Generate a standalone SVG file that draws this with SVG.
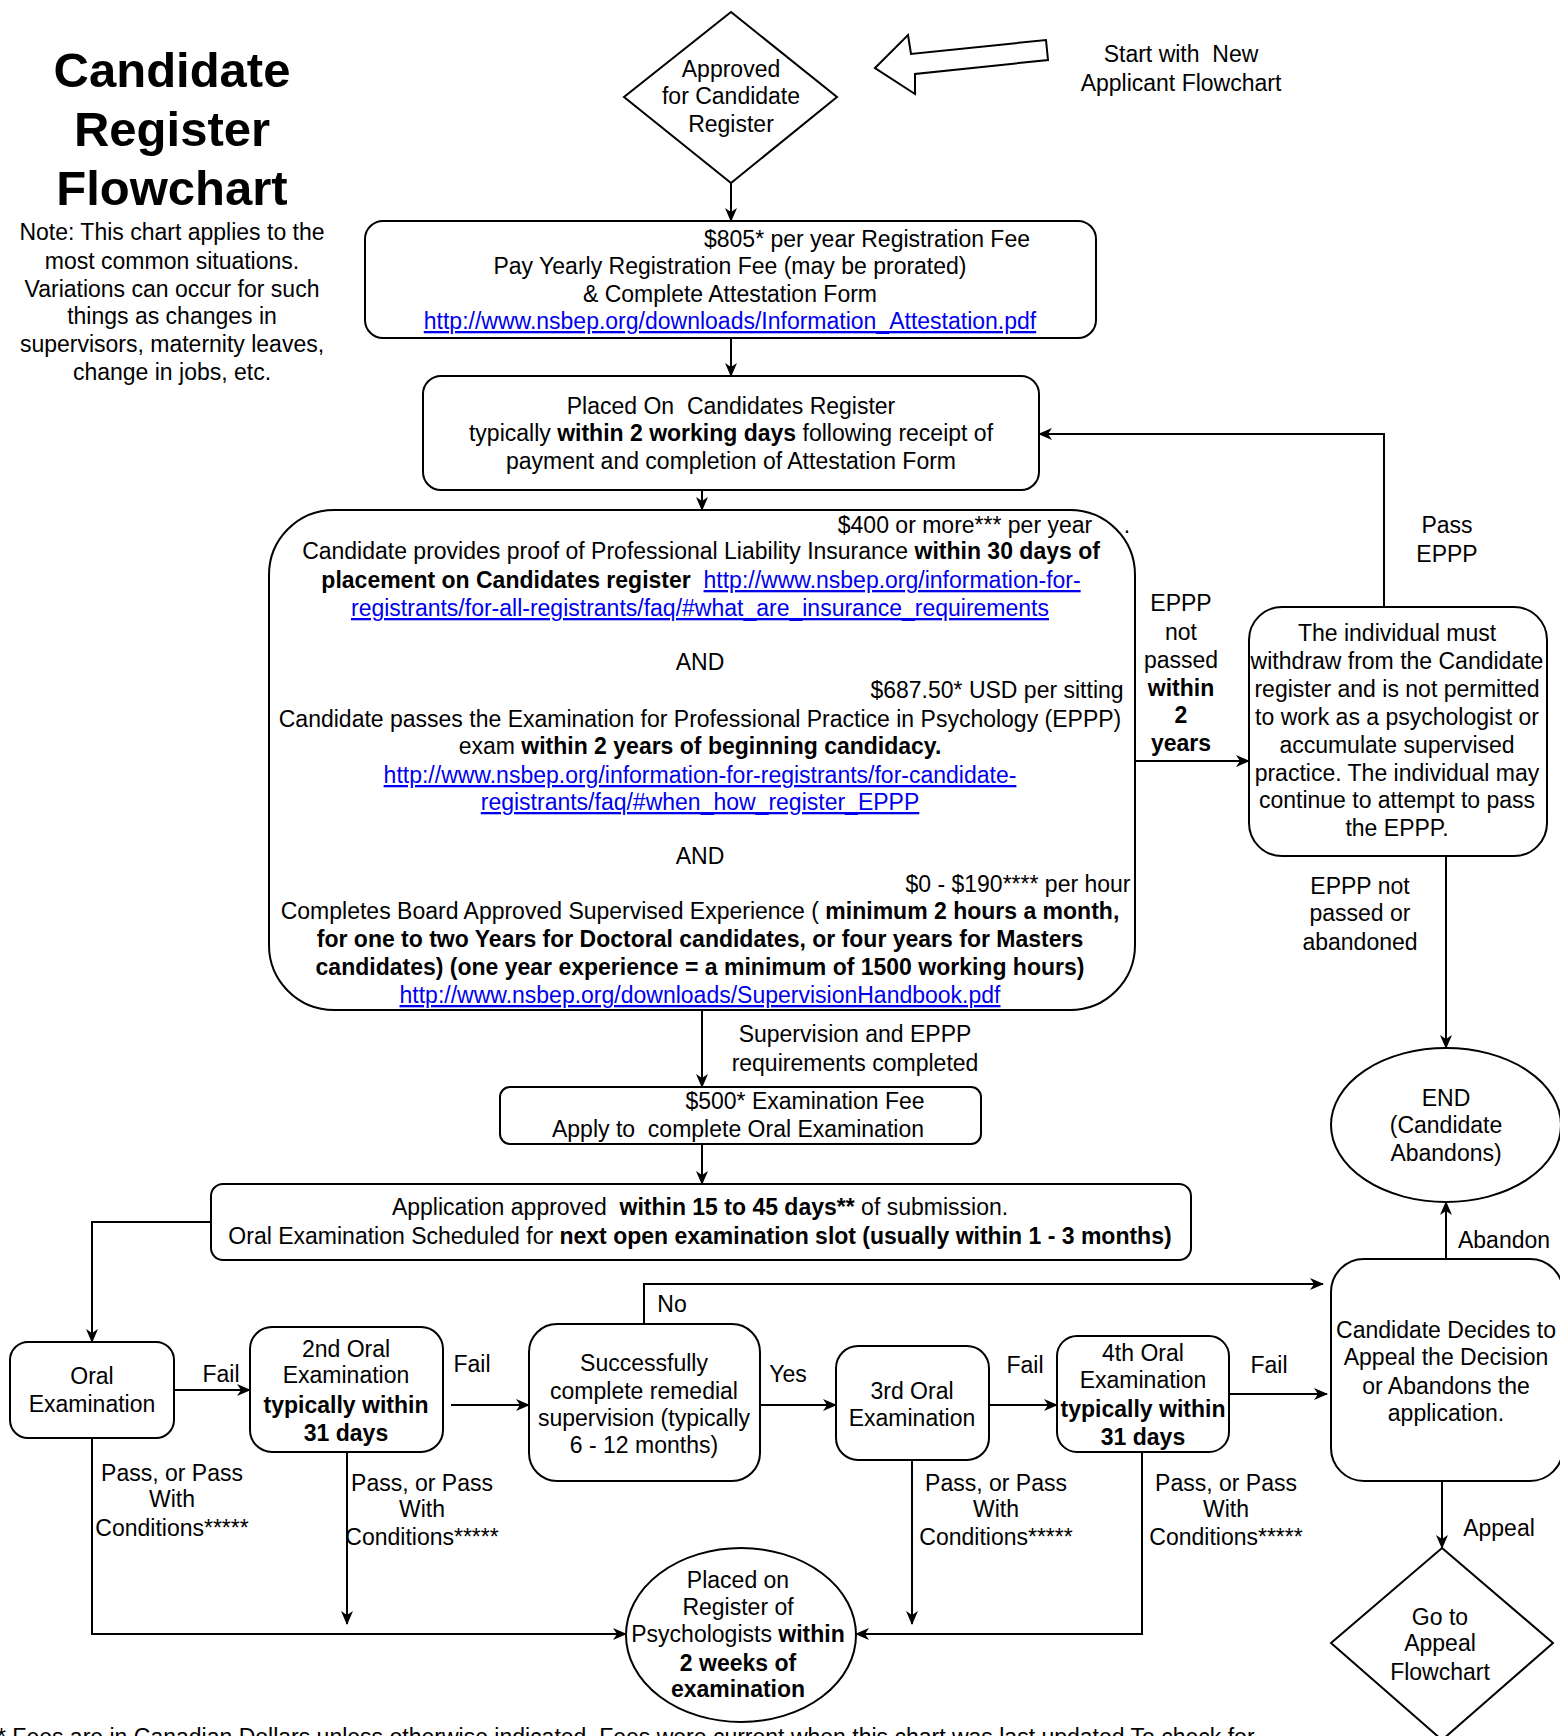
<svg xmlns="http://www.w3.org/2000/svg" width="1560" height="1736" viewBox="0 0 1560 1736">
<style>
text{font-family:"Liberation Sans",Arial,Helvetica,sans-serif;font-size:23px;fill:#000;text-anchor:middle;white-space:pre}
.title{font-size:49px;font-weight:bold}
.b{font-weight:bold}
.a{fill:#0000EE;text-decoration:underline}
.node{fill:#fff;stroke:#000;stroke-width:2}
.edge{fill:none;stroke:#000;stroke-width:2}
</style>
<defs>
<marker id="arr" viewBox="0 0 14 12" refX="13" refY="6" markerWidth="14" markerHeight="12" markerUnits="userSpaceOnUse" orient="auto">
<path d="M0,0 L14,6 L0,12 L4,6 Z" fill="#000"/>
</marker>
</defs>
<rect width="1560" height="1736" fill="#fff"/>

<g id="title">
<text class="title" x="172" y="87">Candidate</text>
<text class="title" x="172" y="146">Register</text>
<text class="title" x="172" y="205">Flowchart</text>
</g>
<g id="note">
<text x="172" y="240">Note: This chart applies to the</text>
<text x="172" y="269">most common situations.</text>
<text x="172" y="297">Variations can occur for such</text>
<text x="172" y="324">things as changes in</text>
<text x="172" y="352">supervisors, maternity leaves,</text>
<text x="172" y="380">change in jobs, etc.</text>
</g>

<g id="start-arrow">
<polygon class="node" points="875,68 908,35 911,54 1046,40 1048,60 915,74 915,94"/>
<text x="1181" y="62">Start with  New</text>
<text x="1181" y="91">Applicant Flowchart</text>
</g>

<g id="approved">
<polygon class="node" points="731,12 837,97 731,183 624,97"/>
<text x="731" y="77">Approved</text>
<text x="731" y="104">for Candidate</text>
<text x="731" y="132">Register</text>
</g>

<g id="pay-fee">
<rect class="node" x="365" y="221" width="731" height="117" rx="18"/>
<text x="867" y="247">$805* per year Registration Fee</text>
<text x="730" y="274">Pay Yearly Registration Fee (may be prorated)</text>
<text x="730" y="302">&amp; Complete Attestation Form</text>
<text class="a" x="730" y="329">http://www.nsbep.org/downloads/Information_Attestation.pdf</text>
</g>

<g id="placed-candidates">
<rect class="node" x="423" y="376" width="616" height="114" rx="18"/>
<text x="731" y="414">Placed On  Candidates Register</text>
<text x="731" y="441">typically <tspan class="b">within 2 working days</tspan> following receipt of</text>
<text x="731" y="469">payment and completion of Attestation Form</text>
</g>

<g id="requirements">
<rect class="node" x="269" y="510" width="866" height="500" rx="65"/>
<text x="965" y="533">$400 or more*** per year</text>
<text x="1127" y="533">.</text>
<text x="701" y="559">Candidate provides proof of Professional Liability Insurance <tspan class="b">within 30 days of</tspan></text>
<text x="701" y="588"><tspan class="b">placement on Candidates register</tspan>  <tspan class="a">http://www.nsbep.org/information-for-</tspan></text>
<text class="a" x="700" y="616">registrants/for-all-registrants/faq/#what_are_insurance_requirements</text>
<text x="700" y="670">AND</text>
<text x="997" y="698">$687.50* USD per sitting</text>
<text x="700" y="727">Candidate passes the Examination for Professional Practice in Psychology (EPPP)</text>
<text x="700" y="754">exam <tspan class="b">within 2 years of beginning candidacy.</tspan></text>
<text class="a" x="700" y="783">http://www.nsbep.org/information-for-registrants/for-candidate-</text>
<text class="a" x="700" y="810">registrants/faq/#when_how_register_EPPP</text>
<text x="700" y="864">AND</text>
<text x="1018" y="892">$0 - $190**** per hour</text>
<text x="700" y="919">Completes Board Approved Supervised Experience ( <tspan class="b">minimum 2 hours a month,</tspan></text>
<text class="b" x="700" y="947">for one to two Years for Doctoral candidates, or four years for Masters</text>
<text class="b" x="700" y="975">candidates) (one year experience = a minimum of 1500 working hours)</text>
<text class="a" x="700" y="1003">http://www.nsbep.org/downloads/SupervisionHandbook.pdf</text>
</g>

<g id="withdraw">
<rect class="node" x="1249" y="607" width="298" height="249" rx="33"/>
<text x="1397" y="641">The individual must</text>
<text x="1397" y="669">withdraw from the Candidate</text>
<text x="1397" y="697">register and is not permitted</text>
<text x="1397" y="725">to work as a psychologist or</text>
<text x="1397" y="753">accumulate supervised</text>
<text x="1397" y="781">practice. The individual may</text>
<text x="1397" y="808">continue to attempt to pass</text>
<text x="1397" y="836">the EPPP.</text>
</g>

<g id="end">
<ellipse class="node" cx="1446" cy="1125" rx="115" ry="77"/>
<text x="1446" y="1106">END</text>
<text x="1446" y="1133">(Candidate</text>
<text x="1446" y="1161">Abandons)</text>
</g>

<g id="oral-fee">
<rect class="node" x="500" y="1087" width="481" height="57" rx="10"/>
<text x="805" y="1109">$500* Examination Fee</text>
<text x="738" y="1137">Apply to  complete Oral Examination</text>
</g>

<g id="approved-oral">
<rect class="node" x="211" y="1184" width="980" height="76" rx="12"/>
<text x="700" y="1215">Application approved  <tspan class="b">within 15 to 45 days**</tspan> of submission.</text>
<text x="700" y="1244">Oral Examination Scheduled for <tspan class="b">next open examination slot (usually within 1 - 3 months)</tspan></text>
</g>

<g id="oral1">
<rect class="node" x="10" y="1342" width="164" height="96" rx="18"/>
<text x="92" y="1384">Oral</text>
<text x="92" y="1412">Examination</text>
</g>

<g id="oral2">
<rect class="node" x="250" y="1327" width="193" height="125" rx="22"/>
<text x="346" y="1357">2nd Oral</text>
<text x="346" y="1383">Examination</text>
<text class="b" x="346" y="1413">typically within</text>
<text class="b" x="346" y="1441">31 days</text>
</g>

<g id="remedial">
<rect class="node" x="529" y="1324" width="231" height="157" rx="28"/>
<text x="644" y="1371">Successfully</text>
<text x="644" y="1399">complete remedial</text>
<text x="644" y="1426">supervision (typically</text>
<text x="644" y="1453">6 - 12 months)</text>
</g>

<g id="oral3">
<rect class="node" x="836" y="1346" width="153" height="114" rx="22"/>
<text x="912" y="1399">3rd Oral</text>
<text x="912" y="1426">Examination</text>
</g>

<g id="oral4">
<rect class="node" x="1057" y="1336" width="172" height="116" rx="20"/>
<text x="1143" y="1361">4th Oral</text>
<text x="1143" y="1388">Examination</text>
<text class="b" x="1143" y="1417">typically within</text>
<text class="b" x="1143" y="1445">31 days</text>
</g>

<g id="appeal-decision">
<rect class="node" x="1331" y="1259" width="232" height="222" rx="33"/>
<text x="1446" y="1338">Candidate Decides to</text>
<text x="1446" y="1365">Appeal the Decision</text>
<text x="1446" y="1394">or Abandons the</text>
<text x="1446" y="1421">application.</text>
</g>

<g id="appeal-flowchart">
<polygon class="node" points="1442,1548 1553,1643 1442,1740 1331,1643"/>
<text x="1440" y="1625">Go to</text>
<text x="1440" y="1651">Appeal</text>
<text x="1440" y="1680">Flowchart</text>
</g>

<g id="register-psych">
<ellipse class="node" cx="741" cy="1635" rx="115" ry="87"/>
<text x="738" y="1588">Placed on</text>
<text x="738" y="1615">Register of</text>
<text x="738" y="1642">Psychologists <tspan class="b">within</tspan></text>
<text class="b" x="738" y="1671">2 weeks of</text>
<text class="b" x="738" y="1697">examination</text>
</g>

<g id="connectors">
<path class="edge" marker-end="url(#arr)" d="M731,183 L731,221"/>
<path class="edge" marker-end="url(#arr)" d="M731,338 L731,376"/>
<path class="edge" marker-end="url(#arr)" d="M702,490 L702,510"/>
<path class="edge" marker-end="url(#arr)" d="M1135,761 L1249,761"/>
<path class="edge" marker-end="url(#arr)" d="M1384,607 L1384,434 L1039,434"/>
<path class="edge" marker-end="url(#arr)" d="M1446,856 L1446,1048"/>
<path class="edge" marker-end="url(#arr)" d="M702,1010 L702,1087"/>
<path class="edge" marker-end="url(#arr)" d="M702,1144 L702,1184"/>
<path class="edge" marker-end="url(#arr)" d="M211,1222 L92,1222 L92,1342"/>
<path class="edge" marker-end="url(#arr)" d="M174,1390 L250,1390"/>
<path class="edge" marker-end="url(#arr)" d="M451,1405 L529,1405"/>
<path class="edge" marker-end="url(#arr)" d="M644,1324 L644,1284 L1323,1284"/>
<path class="edge" marker-end="url(#arr)" d="M760,1405 L836,1405"/>
<path class="edge" marker-end="url(#arr)" d="M989,1405 L1057,1405"/>
<path class="edge" marker-end="url(#arr)" d="M1229,1394 L1327,1394"/>
<path class="edge" marker-end="url(#arr)" d="M1446,1259 L1446,1202"/>
<path class="edge" marker-end="url(#arr)" d="M1442,1481 L1442,1548"/>
<path class="edge" marker-end="url(#arr)" d="M92,1438 L92,1634 L626,1634"/>
<path class="edge" marker-end="url(#arr)" d="M347,1452 L347,1624"/>
<path class="edge" marker-end="url(#arr)" d="M912,1460 L912,1624"/>
<path class="edge" marker-end="url(#arr)" d="M1142,1452 L1142,1634 L856,1634"/>
</g>

<g id="edge-labels">
<text x="1181" y="611">EPPP</text>
<text x="1181" y="640">not</text>
<text x="1181" y="668">passed</text>
<text class="b" x="1181" y="696">within</text>
<text class="b" x="1181" y="723">2</text>
<text class="b" x="1181" y="751">years</text>
<text x="1447" y="533">Pass</text>
<text x="1447" y="562">EPPP</text>
<text x="1360" y="894">EPPP not</text>
<text x="1360" y="921">passed or</text>
<text x="1360" y="950">abandoned</text>
<text x="855" y="1042">Supervision and EPPP</text>
<text x="855" y="1071">requirements completed</text>
<text x="1504" y="1248">Abandon</text>
<text x="1499" y="1536">Appeal</text>
<text x="221" y="1382">Fail</text>
<text x="472" y="1372">Fail</text>
<text x="672" y="1312">No</text>
<text x="788" y="1382">Yes</text>
<text x="1025" y="1373">Fail</text>
<text x="1269" y="1373">Fail</text>
<text x="172" y="1481">Pass, or Pass</text>
<text x="172" y="1507">With</text>
<text x="172" y="1536">Conditions*****</text>
<text x="422" y="1491">Pass, or Pass</text>
<text x="422" y="1517">With</text>
<text x="422" y="1545">Conditions*****</text>
<text x="996" y="1491">Pass, or Pass</text>
<text x="996" y="1517">With</text>
<text x="996" y="1545">Conditions*****</text>
<text x="1226" y="1491">Pass, or Pass</text>
<text x="1226" y="1517">With</text>
<text x="1226" y="1545">Conditions*****</text>
</g>

<g id="footer">
<text x="-3" y="1745" style="text-anchor:start">* Fees are in Canadian Dollars unless otherwise indicated. Fees were current when this chart was last updated To check for</text>
</g>
</svg>
